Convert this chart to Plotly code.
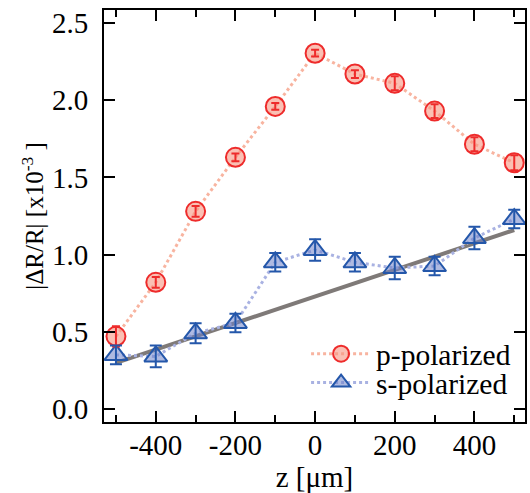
import plotly.graph_objects as go

z = [-500, -400, -300, -200, -100, 0, 100, 200, 300, 400, 500]
p_vals = [0.47, 0.82, 1.28, 1.63, 1.96, 2.305, 2.17, 2.11, 1.93, 1.715, 1.595]
p_err = [0.065, 0.035, 0.035, 0.025, 0.022, 0.022, 0.025, 0.045, 0.045, 0.045, 0.048]
s_vals = [0.35, 0.34, 0.49, 0.557, 0.95, 1.03, 0.95, 0.913, 0.926, 1.107, 1.23]
s_err = [0.06, 0.07, 0.065, 0.06, 0.06, 0.07, 0.06, 0.073, 0.06, 0.073, 0.06]
fit_z = [-500, 500]
fit_vals = [0.298, 1.159]

FONT = "Liberation Serif"
RED = "#EE2B2B"
BLUE = "#2457AA"

fig = go.Figure()
fig.add_trace(go.Scatter(x=fit_z, y=fit_vals, mode="lines",
                         line=dict(color="#7F7A78", width=4), showlegend=False))
fig.add_trace(go.Scatter(x=z, y=p_vals, mode="lines+markers", name="p-polarized",
                         legend="legend",
                         line=dict(color="#F8B4A0", width=3, dash="dot"),
                         marker=dict(symbol="circle", size=19, color="rgba(246,150,130,0.6)",
                                     line=dict(color=RED, width=2))))
fig.add_trace(go.Scatter(x=z, y=s_vals, mode="lines+markers", name="s-polarized",
                         legend="legend2",
                         line=dict(color="#A9B2E2", width=3, dash="dot"),
                         marker=dict(symbol="triangle-up", size=20, color="rgba(110,130,200,0.55)",
                                     line=dict(color=BLUE, width=2))))
fig.add_trace(go.Scatter(x=z, y=p_vals, mode="markers", showlegend=False,
                         marker=dict(size=1, opacity=0),
                         error_y=dict(type="data", array=p_err, color=RED, thickness=2, width=4)))
fig.add_trace(go.Scatter(x=z, y=s_vals, mode="markers", showlegend=False,
                         marker=dict(size=1, opacity=0),
                         error_y=dict(type="data", array=s_err, color=BLUE, thickness=2, width=6)))

leg_common = dict(xanchor="left", yanchor="middle", bgcolor="rgba(0,0,0,0)",
                  font=dict(size=29.5), itemwidth=60)
fig.update_layout(
    width=530, height=493,
    margin=dict(l=104, r=3, t=10, b=71),
    paper_bgcolor="white", plot_bgcolor="white",
    font=dict(family=FONT, size=29, color="black"),
    legend=dict(x=0.48, y=0.165, **leg_common),
    legend2=dict(x=0.48, y=0.095, **leg_common),
)
fig.update_xaxes(range=[-530, 527], tickvals=[-400, -200, 0, 200, 400],
                 ticktext=["-400", "-200", "0", "200", "400"],
                 ticks="inside", ticklen=11, tickwidth=2, tickcolor="black",
                 minor=dict(dtick=100, tick0=0, ticks="inside", ticklen=7, tickwidth=2, tickcolor="black"),
                 showline=True, linewidth=2, linecolor="black", mirror="allticks",
                 showgrid=False, zeroline=False, ticklabelstandoff=-4,
                 title=dict(text="z [μm]", standoff=4, font=dict(size=29)))
fig.update_yaxes(range=[-0.085, 2.585], tickvals=[0, 0.5, 1.0, 1.5, 2.0, 2.5],
                 ticktext=["0.0", "0.5", "1.0", "1.5", "2.0", "2.5"],
                 ticks="inside", ticklen=11, tickwidth=2, tickcolor="black",
                 showline=True, linewidth=2, linecolor="black", mirror="allticks",
                 showgrid=False, zeroline=False, ticklabelstandoff=8,
                 title=dict(text="|ΔR/R| [x10<sup>-3</sup> ]", standoff=1, font=dict(size=25)))
fig.write_html("out.html", config={"displayModeBar": False},
               post_script="document.body.style.margin='0';document.body.style.overflow='hidden';")
